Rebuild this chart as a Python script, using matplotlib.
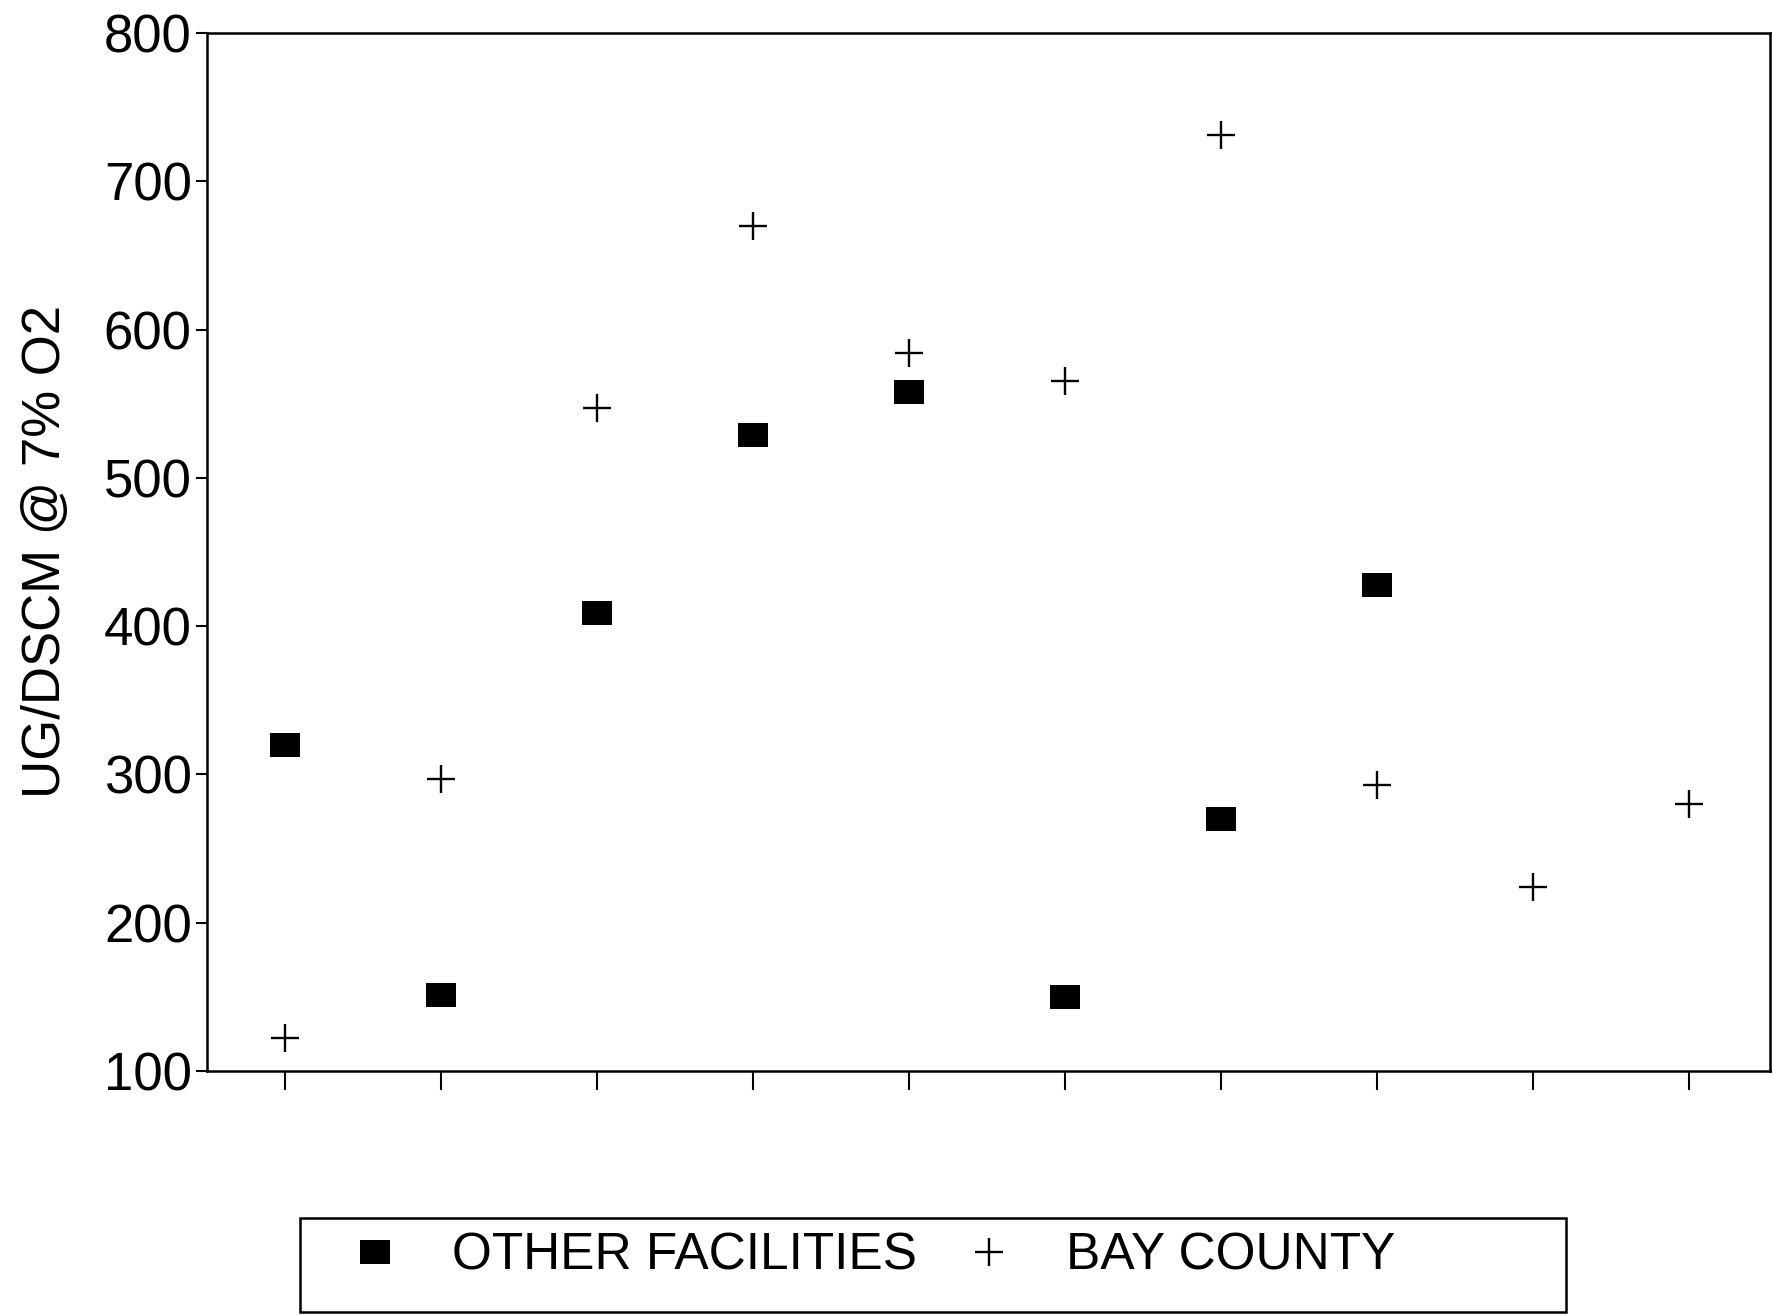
import matplotlib
matplotlib.use("Agg")
import matplotlib.pyplot as plt
from matplotlib.path import Path
from matplotlib.lines import Line2D
from matplotlib.patches import Rectangle

plt.rcParams['font.family'] = ['Liberation Sans', 'DejaVu Sans']

# ------------------------------------------------------------------
# data (x = run / facility position)
# ------------------------------------------------------------------
other_x = [1, 2, 3, 4, 5, 6, 7, 8]
other_y = [320, 151, 409, 529, 558, 150, 270, 428]

bay_x = [1, 2, 3, 4, 5, 6, 7, 8, 9, 10]
bay_y = [122, 297, 547, 670, 584, 565, 731, 293, 224, 280]

x_ticks = [1, 2, 3, 4, 5, 6, 7, 8, 9, 10]
y_ticks = [100, 200, 300, 400, 500, 600, 700, 800]

label_other = "OTHER FACILITIES"
label_bay = "BAY COUNTY"
y_label = "UG/DSCM @ 7% O2"

# slightly wide rectangle, like the scanned squares
rect = Path([(-1.25, -1.0), (1.25, -1.0), (1.25, 1.0), (-1.25, 1.0), (-1.25, -1.0)],
            [Path.MOVETO, Path.LINETO, Path.LINETO, Path.LINETO, Path.CLOSEPOLY])

W, H = 1773, 1315
fig = plt.figure(figsize=(W / 100, H / 100), dpi=100)
ax = fig.add_axes([207 / W, 1 - 1071 / H, (1770 - 207) / W, (1071 - 33) / H])

ax.plot(other_x, other_y, linestyle='none', marker=rect, markersize=21,
        color='black', markeredgewidth=0)
ax.plot(bay_x, bay_y, linestyle='none', marker='+', markersize=20,
        color='black', markeredgewidth=1.7)

ax.set_xlim(0.5, 10.52)
ax.set_ylim(100, 800)
ax.set_xticks(x_ticks)
ax.set_xticklabels([])
ax.set_yticks(y_ticks)
ax.tick_params(axis='y', direction='out', length=8, width=1.5, pad=3, labelsize=38)
ax.tick_params(axis='x', direction='out', length=14, width=1.5)
for s in ax.spines.values():
    s.set_linewidth(1.8)

ax.set_ylabel(y_label, fontsize=38, labelpad=24)

# legend below the plot, inside a plain box
handles = [
    Line2D([], [], linestyle='none', marker=rect, markersize=21, color='black', markeredgewidth=0),
    Line2D([], [], linestyle='none', marker='+', markersize=20, color='black', markeredgewidth=1.7),
]
fig.legend(handles, [label_other, label_bay], loc='center left',
           bbox_to_anchor=(349 / W, 1 - 1256 / H), ncol=2, frameon=False,
           fontsize=37, borderpad=0, borderaxespad=0, handlelength=1.0,
           handletextpad=1.0, columnspacing=0.9)
fig.add_artist(Rectangle((300 / W, 1 - 1312 / H), (1566 - 300) / W, (1312 - 1218) / H,
                         transform=fig.transFigure, fill=False, lw=1.8, edgecolor='black'))

fig.savefig("out.png", dpi=100)
